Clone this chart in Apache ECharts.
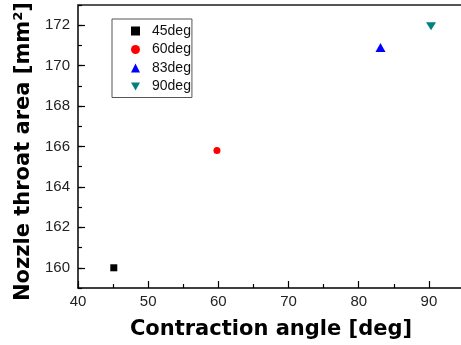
<!DOCTYPE html>
<html>
<head>
<meta charset="utf-8">
<script src="https://cdn.jsdelivr.net/npm/echarts@6/dist/echarts.min.js"></script>
<style>html,body{margin:0;padding:0;background:#fff;}#c{width:461px;height:345px;}</style>
</head>
<body>
<div id="c"></div>
<script>
var seriesNames = ['45deg', '60deg', '83deg', '90deg'];
var angles = [45.1, 59.8, 83.1, 90.3];
var areas = [160.0, 165.8, 170.9, 171.95];
var colors = ['#000000', '#ff0000', '#0000ff', '#008080'];
var symbols = ['rect', 'circle', 'triangle', 'path://M0,0 L10,0 L5,9 Z'];
var symbolSizes = [7, 7, [10, 9], [10, 8]];
var xTicks = [40, 50, 60, 70, 80, 90];
var yTicks = [160, 162, 164, 166, 168, 170, 172];

var FONT = '"Liberation Sans", Arial, sans-serif';
var TFONT = '"DejaVu Sans", sans-serif';
var chart = echarts.init(document.getElementById('c'));
var gTop = 5, gH = 283, yMin = 159, yMax = 173;
var pxPerUnit = gH / (yMax - yMin);

var series = seriesNames.map(function (n, i) {
  return {
    name: n, type: 'scatter', xAxisIndex: 0, yAxisIndex: 0,
    symbol: symbols[i], symbolSize: symbolSizes[i],
    itemStyle: { color: colors[i], opacity: 1 },
    data: [[angles[i], areas[i]]]
  };
});

chart.setOption({
  animation: false,
  backgroundColor: '#fff',
  grid: [
    { left: 78, top: gTop, width: 386, height: gH, containLabel: false, outerBoundsMode: 'none' },
    { left: 78, top: gTop + pxPerUnit * (yMax - yTicks[yTicks.length - 1]), width: 386,
      height: pxPerUnit * (yTicks[yTicks.length - 1] - yTicks[0]), containLabel: false, outerBoundsMode: 'none' }
  ],
  legend: {
    orient: 'vertical', left: 112, top: 19,
    borderColor: '#555', borderWidth: 1, borderRadius: 0,
    padding: [5, 1, 4, 19],
    itemWidth: 9, itemHeight: 9, itemGap: 4.5,
    itemStyle: { opacity: 1 },
    textStyle: { fontFamily: FONT, fontSize: 14, color: '#111', padding: [0, 0, 0, 7] },
    data: seriesNames
  },
  xAxis: [
    {
      gridIndex: 0, type: 'value', min: 40, max: 95, interval: 10,
      name: 'Contraction angle [deg]', nameLocation: 'middle', nameGap: 31,
      nameTextStyle: { fontFamily: TFONT, fontSize: 21, fontWeight: 'bold', color: '#000' },
      axisLine: { lineStyle: { color: '#000', width: 1.5 } },
      axisTick: { inside: true, length: 7, lineStyle: { color: '#000', width: 1.2 } },
      minorTick: { show: true, splitNumber: 2, length: 4, lineStyle: { color: '#000', width: 1.2 } },
      axisLabel: {
        fontFamily: FONT, fontSize: 15, color: '#222', margin: 6,
        formatter: function (v) { return xTicks.indexOf(v) >= 0 ? String(v) : ''; }
      },
      splitLine: { show: false }
    },
    {
      gridIndex: 0, type: 'value', position: 'top', min: 40, max: 95,
      axisLine: { show: true, onZero: false, lineStyle: { color: '#555', width: 2 } },
      axisTick: { show: false }, axisLabel: { show: false }, splitLine: { show: false }
    },
    {
      gridIndex: 1, type: 'value', min: 40, max: 95, show: false
    }
  ],
  yAxis: [
    {
      gridIndex: 0, type: 'value', min: yMin, max: yMax, interval: 1,
      name: 'Nozzle throat area [mm²]', nameLocation: 'middle', nameGap: 42,
      nameTextStyle: { fontFamily: TFONT, fontSize: 21, fontWeight: 'bold', color: '#000', padding: [0, 10, 0, 0] },
      axisLine: { show: true, lineStyle: { color: '#000', width: 1.5 } },
      axisTick: { inside: true, length: 4, lineStyle: { color: '#000', width: 1.2 } },
      axisLabel: {
        fontFamily: FONT, fontSize: 15, color: '#222', margin: 8,
        formatter: function (v) { return yTicks.indexOf(v) >= 0 ? String(v) : ''; }
      },
      splitLine: { show: false }
    },
    {
      gridIndex: 1, type: 'value', min: yTicks[0], max: yTicks[yTicks.length - 1], interval: 2,
      axisLine: { show: false },
      axisTick: { show: true, inside: true, length: 7, lineStyle: { color: '#000', width: 1.2 } },
      axisLabel: { show: false }, splitLine: { show: false }
    }
  ],
  series: series
});
</script>
</body>
</html>
